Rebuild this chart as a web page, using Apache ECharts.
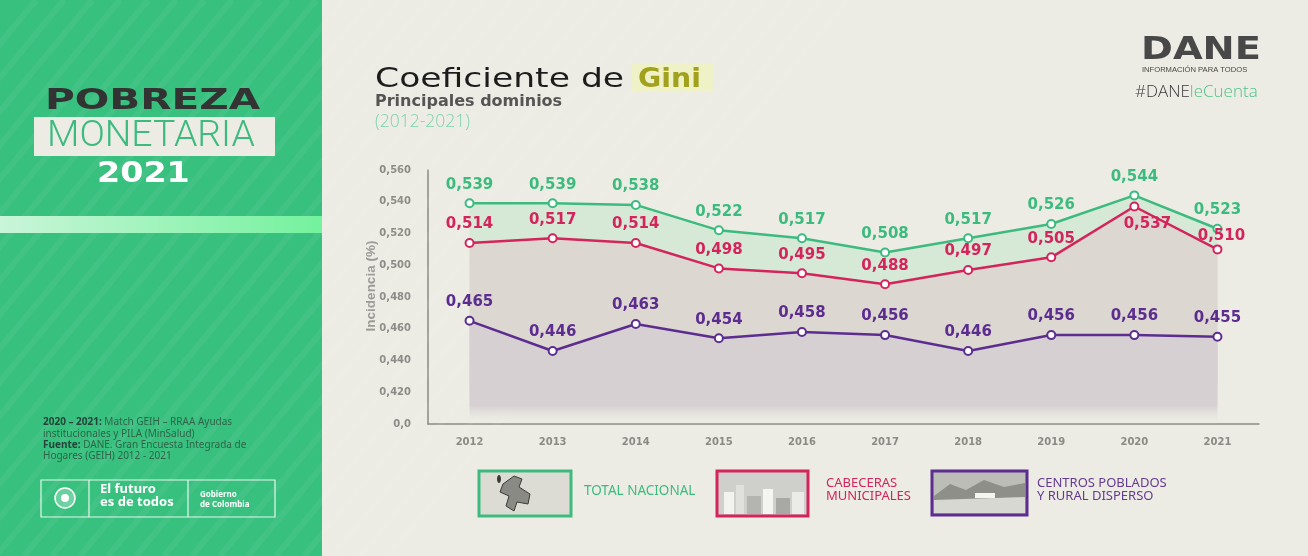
<!DOCTYPE html>
<html>
<head>
<meta charset="utf-8">
<script src="https://cdn.jsdelivr.net/npm/echarts@6/dist/echarts.min.js"></script>
<style>
  html, body { margin: 0; padding: 0; background: #ecece4; }
  #main { width: 1308px; height: 556px; }
</style>
</head>
<body>
<div id="main"></div>
<script>
const years = ['2012', '2013', '2014', '2015', '2016', '2017', '2018', '2019', '2020', '2021']
const totalNacional = [0.539, 0.539, 0.538, 0.522, 0.517, 0.508, 0.517, 0.526, 0.544, 0.523]
const cabeceras = [0.514, 0.517, 0.514, 0.498, 0.495, 0.488, 0.497, 0.505, 0.537, 0.510]
const centrosPoblados = [0.465, 0.446, 0.463, 0.454, 0.458, 0.456, 0.446, 0.456, 0.456, 0.455]
const yMin = 0.40
const yMax = 0.56
const yStep = 0.02

const GREEN = '#3dbb7f'
const RED = '#d3245c'
const PURPLE = '#5c2d8f'
const NUM_FONT = 'DejaVu Sans'

const fmt = v => v.toFixed(3).replace('.', ',')

function fade(color) {
    return new echarts.graphic.LinearGradient(0, 0, 0, 1, [
        { offset: 0, color: color },
        { offset: 0.82, color: color },
        { offset: 1, color: 'rgba(236,236,228,0)' }
    ])
}

function lineSeries(name, values, color, area, labelFix) {
    return {
        name: name,
        type: 'line',
        data: values.map((v, i) => labelFix && labelFix[i] ? { value: v, label: labelFix[i] } : v),
        symbol: 'emptyCircle',
        symbolSize: 8,
        lineStyle: { color: color, width: 2.5 },
        itemStyle: { color: color, borderColor: color, borderWidth: 2.5 },
        areaStyle: { color: fade(area), opacity: 1 },
        label: {
            show: true,
            position: 'top',
            distance: 6,
            formatter: p => fmt(p.value),
            color: color,
            fontFamily: NUM_FONT,
            fontWeight: 'bold',
            fontSize: 15
        },
        emphasis: { disabled: true }
    }
}

// stripes on the green side panel
const stripes = []
for (let i = -8; i < 22; i++) {
    stripes.push({
        type: 'line', z: 1, silent: true,
        shape: { x1: i * 28 - 200, y1: 556, x2: i * 28 + 260, y2: 0 },
        style: { stroke: 'rgba(255,255,255,0.06)', lineWidth: 6 }
    })
}

const chart = echarts.init(document.getElementById('main'), null, { renderer: 'canvas' })

chart.setOption({
    backgroundColor: '#ecece4',
    animation: false,
    grid: { left: 428, right: 49, top: 170, bottom: 132 },
    xAxis: {
        type: 'category',
        data: years,
        boundaryGap: true,
        axisLine: { lineStyle: { color: '#8a8a86', width: 1.5 } },
        axisTick: { show: false },
        axisLabel: { color: '#8a8a86', fontFamily: NUM_FONT, fontWeight: 'bold', fontSize: 10, margin: 13 }
    },
    yAxis: {
        type: 'value',
        min: yMin,
        max: yMax,
        interval: yStep,
        name: 'Incidencia (%)',
        nameLocation: 'middle',
        nameGap: 50,
        nameMoveOverlap: false,
        nameTextStyle: { color: '#9a9a96', fontFamily: 'Liberation Sans', fontWeight: 'bold', fontSize: 13.5, padding: [0, 0, 0, 22] },
        axisLine: { show: true, lineStyle: { color: '#8a8a86', width: 1.5 } },
        axisTick: { show: false },
        splitLine: { show: false },
        axisLabel: {
            color: '#8a8a86', fontFamily: NUM_FONT, fontWeight: 'bold', fontSize: 10, margin: 17,
            formatter: v => Math.abs(v - yMin) < 1e-9 ? '0,0' : fmt(v)
        }
    },
    series: [
        lineSeries('Total nacional', totalNacional, GREEN, '#d6e8d6'),
        lineSeries('Cabeceras municipales', cabeceras, RED, '#dcd7d1', {
            8: { position: 'bottom', distance: 5, offset: [13, 0] },
            9: { position: 'top', distance: 1, offset: [4, 0] }
        }),
        lineSeries('Centros poblados y rural disperso', centrosPoblados, PURPLE, '#d6d0d3')
    ],
    graphic: [
        // left panel
        { type: 'rect', z: 0, silent: true, shape: { x: 0, y: 0, width: 322, height: 556 }, style: { fill: '#37c07e' } },
        ...stripes,
        {
            type: 'rect', z: 2, silent: true, shape: { x: 0, y: 216, width: 322, height: 17 },
            style: {
                fill: new echarts.graphic.LinearGradient(0, 0, 1, 0, [
                    { offset: 0, color: '#c9f5d8' }, { offset: 1, color: '#74f29e' }
                ])
            }
        },
        {
            type: 'text', z: 3, left: 45, top: 88, scaleX: 1.45,
            style: { text: 'POBREZA', fill: '#333333', font: '900 28px "DejaVu Sans"' }
        },
        { type: 'rect', z: 3, shape: { x: 34, y: 117, width: 241, height: 39 }, style: { fill: '#ecece4' } },
        {
            type: 'text', z: 4, left: 47, top: 119, scaleX: 1.04,
            style: { text: 'MONETARIA', fill: GREEN, font: '300 36px Roboto' }
        },
        {
            type: 'text', z: 3, left: 97, top: 160, scaleX: 1.15,
            style: { text: '2021', fill: '#ffffff', font: 'bold 29px "DejaVu Sans"' }
        },
        {
            type: 'text', z: 3, left: 43, top: 417,
            style: {
                text: '{b|2020 – 2021:} Match GEIH – RRAA Ayudas\ninstitucionales y PILA (MinSalud)\n{b|Fuente:} DANE. Gran Encuesta Integrada de\nHogares (GEIH) 2012 - 2021',
                fill: '#2f6448', font: '10px "Noto Sans"', lineHeight: 11.3,
                rich: { b: { fontWeight: 'bold', fill: '#24433a', fontSize: 10, fontFamily: 'Noto Sans' } }
            }
        },
        { type: 'rect', z: 3, shape: { x: 41, y: 480, width: 234, height: 37 }, style: { fill: 'none', stroke: '#e6f7ec', lineWidth: 1.2 } },
        { type: 'line', z: 3, shape: { x1: 89, y1: 480, x2: 89, y2: 517 }, style: { stroke: '#e6f7ec', lineWidth: 1.2 } },
        { type: 'line', z: 3, shape: { x1: 188, y1: 480, x2: 188, y2: 517 }, style: { stroke: '#e6f7ec', lineWidth: 1.2 } },
        { type: 'circle', z: 3, shape: { cx: 65, cy: 498, r: 10 }, style: { fill: 'rgba(255,255,255,0.25)', stroke: '#ffffff', lineWidth: 1.5 } },
        { type: 'circle', z: 3, shape: { cx: 65, cy: 498, r: 4 }, style: { fill: '#ffffff' } },
        {
            type: 'text', z: 3, left: 100, top: 483,
            style: { text: 'El futuro\nes de todos', fill: '#ffffff', font: 'bold 13px "Noto Sans"', lineHeight: 13 }
        },
        {
            type: 'text', z: 3, left: 200, top: 490,
            style: { text: 'Gobierno\nde Colombia', fill: '#ffffff', font: 'bold 8px "Noto Sans"', lineHeight: 10 }
        },

        // title block
        { type: 'rect', z: 1, shape: { x: 632, y: 63, width: 81, height: 29 }, style: { fill: '#eff1c6' } },
        {
            type: 'text', z: 3, left: 375, top: 66, scaleX: 1.28,
            style: { text: 'Coeficiente de', fill: '#1c1c1c', font: '27px "DejaVu Sans"' }
        },
        {
            type: 'text', z: 3, left: 638, top: 66, scaleX: 1.05,
            style: { text: 'Gini', fill: '#a2a11d', font: 'bold 27px "DejaVu Sans"' }
        },
        {
            type: 'text', z: 3, left: 375, top: 94,
            style: { text: 'Principales dominios', fill: '#555555', font: 'bold 16px "DejaVu Sans"' }
        },
        {
            type: 'text', z: 3, left: 375, top: 113,
            style: { text: '(2012-2021)', fill: '#7ad5a8', font: '300 17.5px "Open Sans"' }
        },

        // DANE mark
        {
            type: 'text', z: 3, left: 1141, top: 35, scaleX: 1.2,
            style: { text: 'DANE', fill: '#484848', font: 'bold 32px "DejaVu Sans"' }
        },
        {
            type: 'text', z: 3, left: 1142, top: 66,
            style: { text: 'INFORMACIÓN PARA TODOS', fill: '#444444', font: '7.6px "Liberation Sans"' }
        },
        {
            type: 'text', z: 3, left: 1135, top: 84,
            style: {
                text: '#DANE{c|leCuenta}', fill: '#3a3a3a', font: '300 17px "Open Sans"',
                rich: { c: { fill: '#4cc48a', fontSize: 17, fontFamily: 'Open Sans', fontWeight: 300 } }
            }
        },

        // legend: total nacional
        { type: 'rect', z: 3, shape: { x: 479, y: 471, width: 92, height: 45 }, style: { fill: '#dcdcd4', stroke: GREEN, lineWidth: 3 } },
        {
            type: 'polygon', z: 4,
            shape: { points: [[503, 484], [514, 476], [522, 479], [519, 487], [530, 494], [528, 504], [517, 502], [514, 511], [506, 506], [509, 496], [500, 492]] },
            style: { fill: '#8a8a84', stroke: '#3a3a38', lineWidth: 1 }
        },
        { type: 'ellipse', z: 4, shape: { cx: 499, cy: 479, rx: 2, ry: 4 }, style: { fill: '#3a3a38' } },
        {
            type: 'text', z: 3, left: 584, top: 484,
            style: { text: 'TOTAL NACIONAL', fill: GREEN, font: '13.5px "Noto Sans"' }
        },

        // legend: cabeceras
        { type: 'rect', z: 3, shape: { x: 717, y: 471, width: 91, height: 45 }, style: { fill: '#cfcfcb', stroke: RED, lineWidth: 3 } },
        { type: 'rect', z: 4, shape: { x: 724, y: 492, width: 10, height: 22 }, style: { fill: '#f2f2ee' } },
        { type: 'rect', z: 4, shape: { x: 736, y: 485, width: 8, height: 29 }, style: { fill: '#e0e0dc' } },
        { type: 'rect', z: 4, shape: { x: 747, y: 496, width: 14, height: 18 }, style: { fill: '#b4b4b0' } },
        { type: 'rect', z: 4, shape: { x: 763, y: 489, width: 10, height: 25 }, style: { fill: '#f4f4f0' } },
        { type: 'rect', z: 4, shape: { x: 776, y: 498, width: 14, height: 16 }, style: { fill: '#a8a8a4' } },
        { type: 'rect', z: 4, shape: { x: 792, y: 492, width: 12, height: 22 }, style: { fill: '#ebebe7' } },
        {
            type: 'text', z: 3, left: 826, top: 477,
            style: { text: 'CABECERAS\nMUNICIPALES', fill: RED, font: '13px "Noto Sans"', lineHeight: 13 }
        },

        // legend: centros poblados
        { type: 'rect', z: 3, shape: { x: 932, y: 471, width: 95, height: 44 }, style: { fill: '#bdbdb8', stroke: PURPLE, lineWidth: 3 } },
        {
            type: 'polygon', z: 4,
            shape: { points: [[934, 496], [950, 484], [966, 490], [984, 480], [1004, 487], [1025, 483], [1025, 513], [934, 513]] },
            style: { fill: '#8f8f8a' }
        },
        {
            type: 'polygon', z: 4,
            shape: { points: [[934, 500], [1025, 497], [1025, 513], [934, 513]] },
            style: { fill: '#d8d8d2' }
        },
        { type: 'rect', z: 4, shape: { x: 975, y: 493, width: 20, height: 5 }, style: { fill: '#f4f4f0' } },
        {
            type: 'text', z: 3, left: 1037, top: 477,
            style: { text: 'CENTROS POBLADOS\nY RURAL DISPERSO', fill: '#653a92', font: '13px "Noto Sans"', lineHeight: 13 }
        }
    ]
})
</script>
</body>
</html>
